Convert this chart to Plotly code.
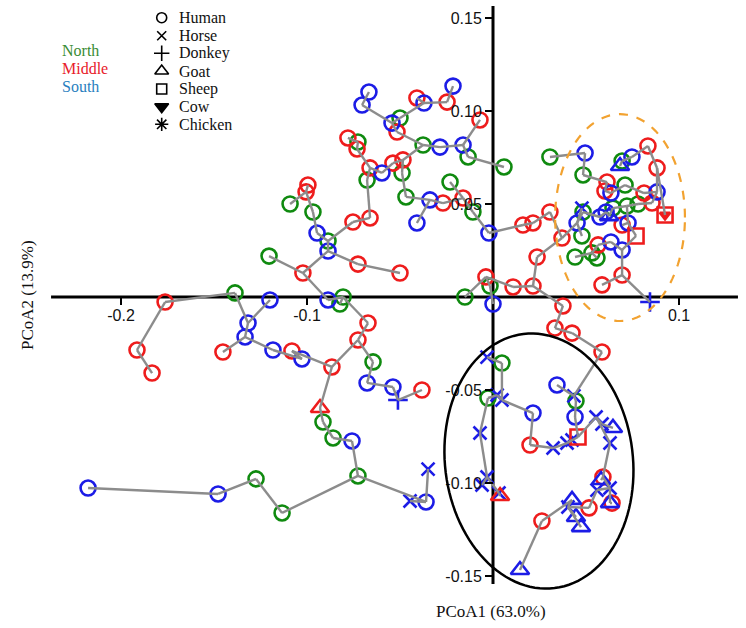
import math
import plotly.graph_objects as go

# ---------------- data (PCoA coordinates) ----------------
pc1 = [
    -0.0667, -0.0704, -0.0500, -0.0543, -0.0516, -0.0409, -0.0371, -0.0247, -0.0215, -0.0070,
    -0.0376, -0.0285, -0.0161, -0.0134, 0.0059, -0.0780, -0.0726, -0.0731, -0.0661, -0.0597,
    -0.0538, -0.0484, -0.0489, -0.0677, -0.0468, -0.0339, -0.0269, -0.0161, -0.0231, -0.0108,
    -0.0409, -0.0022, -0.0661, -0.0753, -0.0887, -0.0946, -0.0968, -0.1005, -0.0995, -0.1091,
    -0.0887, -0.0726, -0.0500, -0.1022, -0.1204, -0.0887, -0.0806, -0.0823, -0.0672, -0.0726,
    -0.0645, -0.0677, -0.0538, -0.0511, -0.0382, -0.0866, -0.1081, -0.1027, -0.1183, -0.1333,
    -0.1317, -0.1452, -0.1199, -0.1387, -0.1763, -0.1914, -0.1833, -0.0930, -0.0914, -0.0860,
    -0.0758, -0.0726, -0.0360, -0.0349, -0.0446, -0.1134, -0.1274, -0.1478, -0.2177, 0.0161,
    0.0215, 0.0306, 0.0371, 0.0237, 0.0215, 0.0108, -0.0038, -0.0016, -0.0151, 0.0000,
    0.0376, 0.0306, 0.0495, 0.0484, 0.0613, 0.0602, 0.0634, 0.0694, 0.0683, 0.0747,
    0.0833, 0.0882, 0.0812, 0.0882, 0.0710, 0.0720, 0.0780, 0.0855, 0.0925, 0.0925,
    0.0478, 0.0452, 0.0484, 0.0575, 0.0608, 0.0624, 0.0645, 0.0726, 0.0694, 0.0769,
    0.0478, 0.0634, 0.0694, 0.0565, 0.0441, 0.0532, 0.0559, 0.0694, 0.0586, 0.0844,
    0.0333, 0.0425, 0.0586, -0.0032, 0.0048, 0.0344, -0.0027, 0.0022, 0.0048, 0.0215,
    0.0446, 0.0441, 0.0435, 0.0554, 0.0586, 0.0645, 0.0457, 0.0398, 0.0425, 0.0323,
    0.0199, 0.0629, -0.0070, -0.0032, -0.0059, 0.0038, 0.0032, 0.0591, 0.0581, 0.0629,
    0.0559, 0.0629, 0.0640, 0.0425, 0.0403, 0.0516, 0.0473, 0.0446, 0.0263, 0.0145,
]
pc2 = [
    0.1102, 0.1032, 0.0962, 0.0935, 0.0887, 0.1070, 0.1043, 0.1048, 0.1134, 0.0952,
    0.0817, 0.0806, 0.0817, 0.0753, 0.0699, 0.0855, 0.0833, 0.0796, 0.0694, 0.0667,
    0.0720, 0.0737, 0.0667, 0.0629, 0.0538, 0.0522, 0.0505, 0.0532, 0.0618, 0.0457,
    0.0398, 0.0344, 0.0425, 0.0403, 0.0301, 0.0344, 0.0457, 0.0565, 0.0602, 0.0500,
    0.0247, 0.0177, 0.0129, 0.0129, 0.0220, -0.0016, 0.0000, -0.0038, -0.0140, -0.0231,
    -0.0349, -0.0462, -0.0484, -0.0554, -0.0500, -0.0376, -0.0290, -0.0333, -0.0285, -0.0215,
    -0.0140, -0.0296, -0.0016, 0.0022, -0.0027, -0.0285, -0.0409, -0.0597, -0.0672, -0.0758,
    -0.0774, -0.0962, -0.1102, -0.0925, -0.1097, -0.1161, -0.0978, -0.1059, -0.1027, 0.0387,
    0.0398, 0.0457, 0.0317, 0.0215, 0.0059, 0.0054, 0.0108, 0.0059, 0.0000, -0.0038,
    -0.0048, 0.0753, 0.0774, 0.0656, 0.0618, 0.0570, 0.0559, 0.0731, 0.0704, 0.0753,
    0.0812, 0.0694, 0.0559, 0.0565, 0.0602, 0.0489, 0.0500, 0.0505, 0.0441, 0.0441,
    0.0478, 0.0398, 0.0457, 0.0430, 0.0457, 0.0435, 0.0478, 0.0398, 0.0387, 0.0328,
    0.0328, 0.0296, 0.0253, 0.0280, 0.0215, 0.0237, 0.0210, 0.0118, 0.0065, -0.0027,
    -0.0167, -0.0194, -0.0296, -0.0323, -0.0355, -0.0473, -0.0543, -0.0527, -0.0554, -0.0624,
    -0.0559, -0.0645, -0.0532, -0.0645, -0.0683, -0.0704, -0.0753, -0.0785, -0.0769, -0.0812,
    -0.0796, -0.0785, -0.0731, -0.0968, -0.1011, -0.1070, -0.1054, -0.0968, -0.0984, -0.1027,
    -0.1038, -0.1108, -0.1108, -0.1091, -0.1129, -0.1134, -0.1237, -0.1183, -0.1204, -0.1468,
]
# region of each sample: N = North, M = Middle, S = South
region = list(
    "SSNSMMSMSM" "NSSNNMNMMS" "MMNNNSMMNN" "SSMMNSNMMN"
    "SMMMNSNNMM" "NSSSMMMSSS" "SMSNMMMMNN" "SNSSSNNSSM"
    "MMMMMMMNNS" "MNSNMMSNSS" "MMMSNNNMMM" "SSNSSSNSMM"
    "NSSMNNNMMS" "MMMSNSNSSS" "NSSSSSMSSS" "MSSSSMSMSS"
    "SSMSSMSSMS"
)
# host of each sample: H human, X horse, P donkey, G goat, Q sheep, C cow, K chicken
host = list(
    "HHHHHHHHHH" "HHHHHHHHHH" "HHHHHHHHHH" "HHHHHHHHHH"
    "HHHHHHHHHH" "HHHPHHHHHH" "HHHHHHHGHH" "HHHXXHHHHH"
    "HHHHHHHHHH" "HHHHHHHHGH" "HHHHHHHHQC" "XHHHHGHHHQ"
    "HHHHHHHHHP" "HHHXHHHXXH" "HHXXXGQXXX" "HXXXXGXHGX"
    "XGHGXHGGHG"
)
# minimum-spanning-tree style links between samples (1-based sample ids)
links = [
    (1, 2), (2, 4), (4, 5), (5, 11), (4, 3), (3, 7), (7, 6), (7, 8), (8, 9),
    (11, 12), (12, 13), (13, 10), (13, 14), (14, 15),
    (11, 22), (22, 21), (21, 20), (20, 19), (19, 18), (18, 17), (17, 16),
    (19, 24), (24, 33), (33, 34), (34, 35), (35, 36), (36, 37), (37, 38), (38, 39), (38, 40),
    (35, 41), (41, 42), (42, 43), (41, 44), (44, 45), (44, 46), (46, 47), (47, 48), (47, 49),
    (49, 50), (50, 51), (51, 52), (52, 53), (53, 54), (54, 55), (50, 56), (56, 57), (57, 58),
    (58, 59), (59, 60), (60, 62), (60, 61), (61, 63), (61, 64), (64, 65), (65, 66), (66, 67),
    (56, 68), (68, 69), (69, 70), (70, 71), (71, 72), (72, 73), (73, 74), (73, 75), (72, 76),
    (76, 77), (77, 78), (78, 79),
    (22, 23), (23, 25), (25, 26), (26, 27), (27, 28), (28, 29), (28, 30), (30, 32), (26, 31),
    (32, 80), (80, 81), (81, 82), (82, 83), (83, 84), (84, 85), (85, 86), (86, 87), (87, 89),
    (87, 88), (88, 90),
    (85, 91), (91, 131), (131, 132), (132, 133), (133, 143), (143, 136), (143, 141), (141, 142),
    (142, 147), (147, 148), (148, 149), (148, 150), (150, 151), (151, 140), (140, 139), (139, 138),
    (138, 137), (139, 135), (135, 134), (137, 153), (153, 154), (154, 155), (154, 157), (157, 156),
    (147, 144), (144, 145), (145, 146), (144, 152), (152, 158), (158, 159), (158, 160), (160, 161),
    (160, 162), (162, 163), (161, 166), (166, 165), (165, 164), (164, 169), (169, 170), (165, 167),
    (165, 168),
    (83, 112), (112, 111), (112, 121), (112, 113), (113, 114), (114, 115), (115, 116), (116, 117),
    (117, 106), (106, 107), (107, 108), (108, 104), (104, 103), (103, 105), (105, 97), (97, 96),
    (96, 95), (95, 94), (94, 93), (93, 92), (104, 102), (102, 101), (101, 100), (100, 98), (98, 99),
    (102, 109), (106, 118), (118, 119), (118, 120), (120, 123), (123, 122), (122, 124), (124, 126),
    (126, 125), (126, 127), (123, 128), (128, 129), (128, 130),
]
region_names = ["North", "Middle", "South"]
host_names = ["Human", "Horse", "Donkey", "Goat", "Sheep", "Cow", "Chicken"]
x_ticks = [-0.2, -0.1, 0.1]
x_ticklabels = ["-0.2", "-0.1", "0.1"]
y_ticks = [-0.15, -0.10, -0.05, 0.05, 0.10, 0.15]
y_ticklabels = ["-0.15", "-0.10", "-0.05", "0.05", "0.10", "0.15"]

# ---------------- styles ----------------
REG_COLOR = {"N": "#0f8a0f", "M": "#ee1c1c", "S": "#1c1ce6"}
REG_TEXT = {"North": "#3a8c34", "Middle": "#e8202a", "South": "#2a7fc0"}
HOST_CODE = {"Human": "H", "Horse": "X", "Donkey": "P", "Goat": "G",
             "Sheep": "Q", "Cow": "C", "Chicken": "K"}
SYMBOL = {"H": ("circle-open", 15), "X": ("x-thin-open", 13), "P": ("cross-thin-open", 14),
          "G": ("triangle-up-open", 16), "Q": ("square-open", 15), "C": ("triangle-down", 9),
          "K": ("asterisk-open", 13)}
LEG_SYMBOL = {"H": ("circle-open", 10), "X": ("x-thin-open", 9), "P": ("cross-thin-open", 11),
              "G": ("triangle-up-open", 12), "Q": ("square-open", 10), "C": ("triangle-down", 12),
              "K": ("asterisk-open", 11)}
SERIF = "Liberation Serif"
SANS = "Liberation Sans"

X_RANGE = [-0.26505, 0.13602]
Y_RANGE = [-0.17796, 0.15968]
X_AXIS_EXTENT = [-0.2376, 0.1317]
Y_AXIS_EXTENT = [-0.1543, 0.1565]

fig = go.Figure()

# markers
for code in ["H", "X", "P", "G", "Q", "C", "K"]:
    for reg in ["N", "M", "S"]:
        idx = [i for i in range(len(pc1)) if host[i] == code and region[i] == reg]
        if not idx:
            continue
        sym, size = SYMBOL[code]
        fig.add_trace(go.Scatter(
            x=[pc1[i] for i in idx], y=[pc2[i] for i in idx], mode="markers",
            marker=dict(symbol=sym, size=size, color=REG_COLOR[reg],
                        line=dict(width=2.6, color=REG_COLOR[reg])),
            hoverinfo="skip", cliponaxis=False))

# links (drawn over the markers, as in the original)
lx, ly = [], []
for a, b in links:
    lx += [pc1[a - 1], pc1[b - 1], None]
    ly += [pc2[a - 1], pc2[b - 1], None]
fig.add_trace(go.Scatter(x=lx, y=ly, mode="lines",
                         line=dict(color="#8c8c8c", width=2.4), hoverinfo="skip"))

# legend glyphs on an overlay pixel-space axis pair
leg_y = [17.7, 35.7, 53.3, 71.0, 89.0, 106.7, 124.3]
for name, yy in zip(host_names, leg_y):
    sym, size = LEG_SYMBOL[HOST_CODE[name]]
    fig.add_trace(go.Scatter(
        x=[161.7], y=[yy], xaxis="x2", yaxis="y2", mode="markers",
        marker=dict(symbol=sym, size=size, color="black", line=dict(width=1.6, color="black")),
        hoverinfo="skip", cliponaxis=False))

annotations = []
for name, yy in zip(host_names, leg_y):
    annotations.append(dict(x=176.5, y=yy, xref="x2", yref="y2", text=name, showarrow=False,
                            xanchor="left", yanchor="middle",
                            font=dict(family=SERIF, size=16, color="#111111")))
for name, yy in zip(region_names, [50.7, 68.3, 86.0]):
    annotations.append(dict(x=59.5, y=yy, xref="x2", yref="y2", text=name, showarrow=False,
                            xanchor="left", yanchor="middle",
                            font=dict(family=SERIF, size=16, color=REG_TEXT[name])))
annotations.append(dict(x=491, y=611, xref="x2", yref="y2", text="PCoA1 (63.0%)",
                        showarrow=False, xanchor="center", yanchor="middle",
                        font=dict(family=SERIF, size=17, color="#111111")))
annotations.append(dict(x=27, y=295, xref="x2", yref="y2", text="PCoA2 (13.9%)",
                        showarrow=False, xanchor="center", yanchor="middle", textangle=-90,
                        font=dict(family=SERIF, size=17, color="#111111")))


def ellipse_path(cx, cy, a, b, deg, n=120):
    t = math.radians(deg)
    pts = []
    for k in range(n + 1):
        u = 2 * math.pi * k / n
        ex, ey = a * math.cos(u), b * math.sin(u)
        pts.append((cx + ex * math.cos(t) - ey * math.sin(t),
                    cy + ex * math.sin(t) + ey * math.cos(t)))
    return "M " + " L ".join(f"{px:.5f},{py:.5f}" for px, py in pts) + " Z"


shapes = [
    dict(type="line", x0=X_AXIS_EXTENT[0], x1=X_AXIS_EXTENT[1], y0=0, y1=0,
         xref="x", yref="y", line=dict(color="black", width=3), layer="below"),
    dict(type="line", x0=0, x1=0, y0=Y_AXIS_EXTENT[0], y1=Y_AXIS_EXTENT[1],
         xref="x", yref="y", line=dict(color="black", width=3), layer="below"),
    dict(type="path", path=ellipse_path(0.0247, -0.0882, 0.0505, 0.0688, 7),
         xref="x", yref="y", line=dict(color="black", width=2.5), layer="above"),
    dict(type="path", path=ellipse_path(0.0683, 0.0427, 0.0349, 0.0556, 0),
         xref="x", yref="y", line=dict(color="#f2a230", width=2.2, dash="dash"), layer="above"),
]

xpos = (0 - Y_RANGE[0]) / (Y_RANGE[1] - Y_RANGE[0])
ypos = (0 - X_RANGE[0]) / (X_RANGE[1] - X_RANGE[0])

fig.update_layout(
    width=746, height=628, margin=dict(l=0, r=0, t=0, b=0),
    paper_bgcolor="white", plot_bgcolor="white", showlegend=False,
    xaxis=dict(range=X_RANGE, anchor="free", position=xpos, showgrid=False, zeroline=False,
               showline=False, ticks="outside", ticklen=7, tickwidth=2, tickcolor="black",
               tickvals=x_ticks, ticktext=x_ticklabels, ticklabelstandoff=-3,
               tickfont=dict(family=SANS, size=16, color="#111111")),
    yaxis=dict(range=Y_RANGE, anchor="free", position=ypos, showgrid=False, zeroline=False,
               showline=False, ticks="outside", ticklen=8, tickwidth=2, tickcolor="black",
               tickvals=y_ticks, ticktext=y_ticklabels,
               tickfont=dict(family=SANS, size=16, color="#111111")),
    xaxis2=dict(range=[0, 746], overlaying="x", visible=False, anchor="y2"),
    yaxis2=dict(range=[628, 0], overlaying="y", visible=False, anchor="x2"),
    shapes=shapes, annotations=annotations,
)

fig.write_html(
    "out.html",
    config={"displayModeBar": False},
    post_script="document.body.style.margin='0px';document.body.style.overflow='hidden';",
)
